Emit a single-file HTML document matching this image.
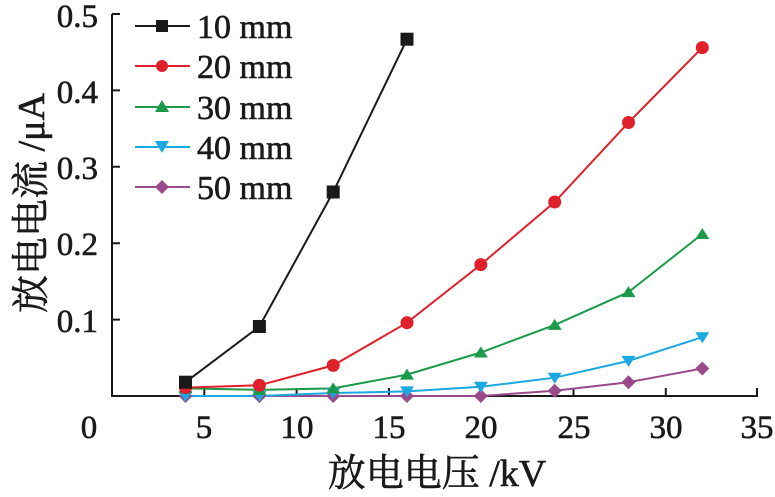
<!DOCTYPE html>
<html><head><meta charset="utf-8"><style>
body{margin:0;background:#fff}
svg text{font-family:"Liberation Serif","Noto Serif CJK SC",serif;fill:#1a1a1a;stroke:#1a1a1a;stroke-width:0.6}
</style></head><body>
<svg width="775" height="492" viewBox="0 0 775 492" xmlns="http://www.w3.org/2000/svg">
<g stroke="#1a1a1a" stroke-width="2" fill="none">
<path d="M112 14 V396 H758"/>
<path d="M112 14 h8 M112 90.4 h8 M112 166.8 h8 M112 243.2 h8 M112 319.6 h8"/>
<path d="M204.3 396 v-8 M296.6 396 v-8 M388.9 396 v-8 M481.2 396 v-8 M573.5 396 v-8 M665.8 396 v-8 M757 396 v-8"/>
</g>
<g font-size="33" text-anchor="end">
<text x="98" y="27">0.5</text><text x="98" y="103">0.4</text><text x="98" y="179">0.3</text><text x="98" y="255">0.2</text><text x="98" y="332">0.1</text>
</g>
<g font-size="33" text-anchor="middle">
<text x="89" y="438">0</text><text x="204" y="438">5</text><text x="297" y="438">10</text><text x="389" y="438">15</text><text x="481" y="438">20</text><text x="574" y="438">25</text><text x="666" y="438">30</text><text x="757" y="438">35</text>
</g>
<text x="437" y="486" font-size="38" text-anchor="middle">放电电压 /kV</text>
<text transform="translate(44,203) rotate(-90)" font-size="38" text-anchor="middle">放电电流 /μA</text>
<g stroke-width="2" fill="none">
<polyline stroke="#9a4a8a" points="185.5,396 259.4,396 333.2,396 407,396 480.8,396 554.7,390.7 628.5,382.2 702.3,368.5"/>
<polyline stroke="#1aa8e0" points="185.5,396 259.4,396 333.2,393 407,391.4 480.8,386.8 554.7,377.7 628.5,360.9 702.3,337.2"/>
<polyline stroke="#1a9a4a" points="185.5,388.4 259.4,389.9 333.2,388.4 407,374.6 480.8,352.5 554.7,324.9 628.5,292.1 702.3,234"/>
<polyline stroke="#e0202a" points="185.5,387.6 259.4,385.3 333.2,365.4 407,322.7 480.8,264.6 554.7,202 628.5,122.5 702.3,47.6"/>
<polyline stroke="#1a1a1a" points="185.5,382.2 259.4,326.5 333.2,192 407,39.2"/>
</g>
<g fill="#9a4a8a">
<path d="M185.5 389l7 7-7 7-7-7z"/><path d="M259.4 389l7 7-7 7-7-7z"/><path d="M333.2 389l7 7-7 7-7-7z"/><path d="M407 389l7 7-7 7-7-7z"/><path d="M480.8 389l7 7-7 7-7-7z"/><path d="M554.7 383.7l7 7-7 7-7-7z"/><path d="M628.5 375.2l7 7-7 7-7-7z"/><path d="M702.3 361.5l7 7-7 7-7-7z"/>
</g>
<g fill="#1aa8e0">
<path d="M178.5 391h14l-7 11z"/><path d="M252.4 391h14l-7 11z"/><path d="M326.2 388h14l-7 11z"/><path d="M400 386.4h14l-7 11z"/><path d="M473.8 381.8h14l-7 11z"/><path d="M547.7 372.7h14l-7 11z"/><path d="M621.5 355.9h14l-7 11z"/><path d="M695.3 332.2h14l-7 11z"/>
</g>
<g fill="#1a9a4a">
<path d="M178.5 393.4h14l-7-11z"/><path d="M252.4 394.9h14l-7-11z"/><path d="M326.2 393.4h14l-7-11z"/><path d="M400 379.6h14l-7-11z"/><path d="M473.8 357.5h14l-7-11z"/><path d="M547.7 329.9h14l-7-11z"/><path d="M621.5 297.1h14l-7-11z"/><path d="M695.3 239h14l-7-11z"/>
</g>
<g fill="#e0202a">
<circle cx="185.5" cy="387.6" r="6.5"/><circle cx="259.4" cy="385.3" r="6.5"/><circle cx="333.2" cy="365.4" r="6.5"/><circle cx="407" cy="322.7" r="6.5"/><circle cx="480.8" cy="264.6" r="6.5"/><circle cx="554.7" cy="202" r="6.5"/><circle cx="628.5" cy="122.5" r="6.5"/><circle cx="702.3" cy="47.6" r="6.5"/>
</g>
<g fill="#1a1a1a">
<rect x="179" y="375.7" width="13" height="13"/><rect x="252.9" y="320" width="13" height="13"/><rect x="326.7" y="185.5" width="13" height="13"/><rect x="400.5" y="32.7" width="13" height="13"/>
</g>
<g stroke-width="2">
<line x1="135" y1="26" x2="190" y2="26" stroke="#1a1a1a"/><rect x="156" y="20" width="12" height="12" fill="#1a1a1a"/>
<line x1="135" y1="66" x2="190" y2="66" stroke="#e0202a"/><circle cx="162" cy="66" r="6" fill="#e0202a"/>
<line x1="135" y1="107" x2="190" y2="107" stroke="#1a9a4a"/><path d="M155 112h14l-7-12z" fill="#1a9a4a"/>
<line x1="135" y1="147" x2="190" y2="147" stroke="#1aa8e0"/><path d="M155 141h14l-7 12z" fill="#1aa8e0"/>
<line x1="135" y1="187" x2="190" y2="187" stroke="#9a4a8a"/><path d="M162 180l7 7-7 7-7-7z" fill="#9a4a8a"/>
</g>
<g font-size="34">
<text x="197" y="38">10 mm</text><text x="197" y="78">20 mm</text><text x="197" y="119">30 mm</text><text x="197" y="159">40 mm</text><text x="197" y="199">50 mm</text>
</g>
</svg>
</body></html>
